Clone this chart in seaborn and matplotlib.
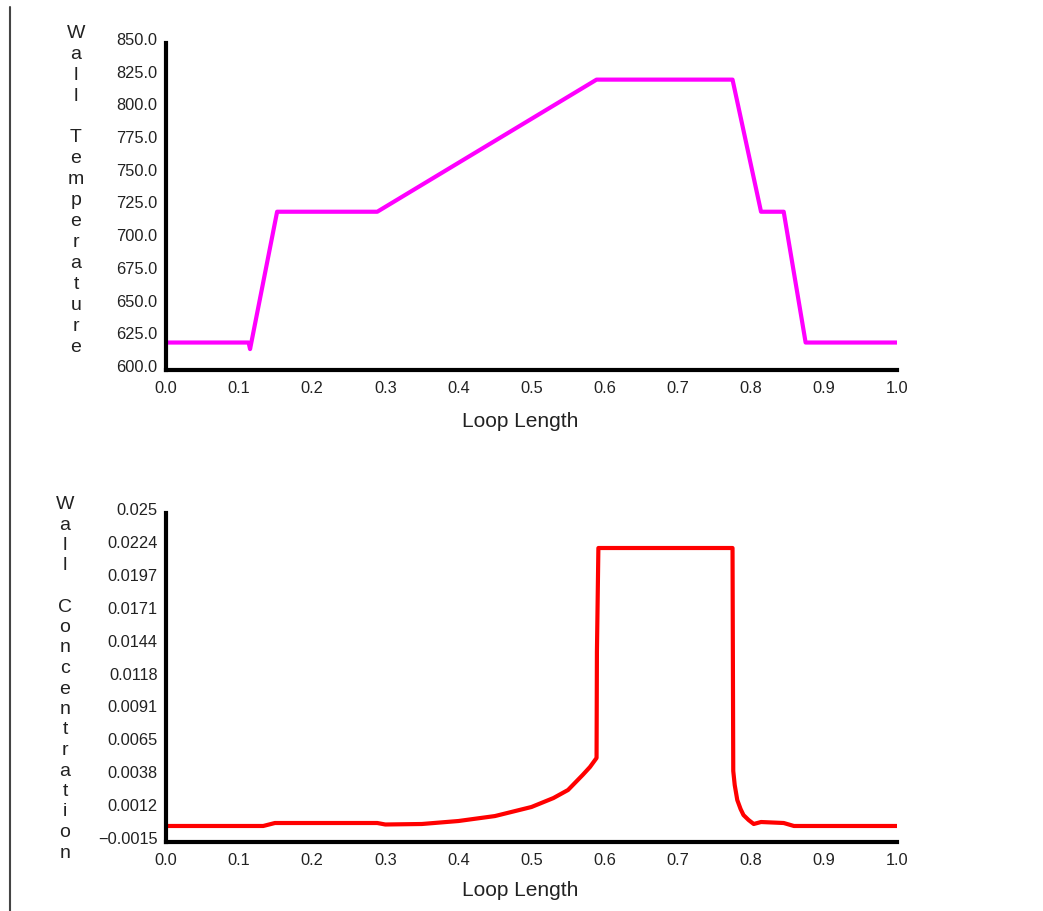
import numpy as np
import pandas as pd
import matplotlib
matplotlib.use("Agg")
import matplotlib.pyplot as plt
import matplotlib.transforms as mtransforms
from matplotlib.lines import Line2D
import seaborn as sns

# wall temperature along the loop
temp_x = [0.0, 0.113, 0.115, 0.152, 0.289, 0.589, 0.775, 0.814, 0.845, 0.875, 1.0]
temp_y = [621, 621, 616, 721, 721, 822, 822, 721, 721, 621, 621]

# wall concentration along the loop
conc_x = [0.0, 0.133, 0.149, 0.289, 0.30, 0.35, 0.40, 0.45, 0.50, 0.53, 0.55,
          0.57, 0.58, 0.589, 0.5895, 0.5915, 0.775, 0.776, 0.778, 0.7815,
          0.786, 0.79, 0.797, 0.804, 0.814, 0.845, 0.859, 1.0]
conc_y = [-0.00021, -0.00021, 0.00003, 0.00003, -0.00009, -0.00005, 0.00019,
          0.00059, 0.00132, 0.00204, 0.00269, 0.00390, 0.00454, 0.00527,
          0.01380, 0.02218, 0.02218, 0.00422, 0.00309, 0.00188, 0.00116,
          0.00067, 0.00027, -0.00005, 0.00011, 0.00003, -0.00021, -0.00021]

x_ticks = [0.0, 0.1, 0.2, 0.3, 0.4, 0.5, 0.6, 0.7, 0.8, 0.9, 1.0]
temp_ticks = [600, 625, 650, 675, 700, 725, 750, 775, 800, 825, 850]
conc_ticks = [-0.0015, 0.00115, 0.0038, 0.00645, 0.0091, 0.01175, 0.0144,
              0.01705, 0.0197, 0.02235, 0.025]
conc_labels = ["\u22120.0015", "0.0012", "0.0038", "0.0065", "0.0091", "0.0118",
               "0.0144", "0.0171", "0.0197", "0.0224", "0.025"]

temp_df = pd.DataFrame({"Loop Length": temp_x, "Wall Temperature": temp_y})
conc_df = pd.DataFrame({"Loop Length": conc_x, "Wall Concentration": conc_y})

sns.set_style("white")
plt.rcParams["font.family"] = ["Liberation Sans", "DejaVu Sans"]

W, H = 1043, 911
fig = plt.figure(figsize=(W / 100, H / 100), dpi=100)
ax1 = fig.add_axes([166 / W, (H - 370) / H, 731 / W, 327 / H])
ax2 = fig.add_axes([166 / W, (H - 842) / H, 731 / W, 329 / H])

sns.lineplot(data=temp_df, x="Loop Length", y="Wall Temperature", ax=ax1,
             color="#ff00ff", linewidth=3, estimator=None, sort=False)
sns.lineplot(data=conc_df, x="Loop Length", y="Wall Concentration", ax=ax2,
             color="#ff0000", linewidth=3, estimator=None, sort=False)

ax1.set_ylim(600, 850)
ax1.set_yticks(temp_ticks)
ax1.set_yticklabels([f"{t:.1f}" for t in temp_ticks])
ax2.set_ylim(-0.0015, 0.025)
ax2.set_yticks(conc_ticks)
ax2.set_yticklabels(conc_labels)

up = mtransforms.ScaledTranslation(0, 4 / 100, fig.dpi_scale_trans)
for ax, ly in ((ax1, -0.128), (ax2, -0.118)):
    ax.set_xlim(0, 1)
    ax.set_xticks(x_ticks)
    ax.set_xticklabels([f"{t:.1f}" for t in x_ticks])
    ax.set_ylabel("")
    ax.set_xlabel("Loop Length", fontsize=15, color="#222222")
    ax.xaxis.set_label_coords(0.485, ly)
    for s in ("top", "right"):
        ax.spines[s].set_visible(False)
    for s in ("left", "bottom"):
        ax.spines[s].set_linewidth(3)
        ax.spines[s].set_color("black")
    ax.tick_params(axis="y", direction="in", length=12, width=1.8,
                   labelsize=11.8, pad=6, colors="black", labelcolor="#222222")
    ax.tick_params(axis="x", direction="in", length=5, width=1.8,
                   labelsize=11.8, pad=8, colors="black", labelcolor="#222222")
    for lab in ax.get_yticklabels():
        lab.set_transform(lab.get_transform() + up)
    ax.patch.set_alpha(0)

# stacked vertical axis titles
def stacked(text, xc, y0, step):
    for i, ch in enumerate(text):
        fig.text(xc / W, 1 - (y0 + i * step) / H, ch, ha="center",
                 va="baseline", fontsize=14, color="#222222")

stacked("Wall Temperature", 76, 38, 20.9)
stacked("Wall Concentration", 65, 509, 20.5)

# frame line on the left
fig.add_artist(Line2D([10 / W, 10 / W], [0, 1 - 7 / H],
                      transform=fig.transFigure, color="#444444", linewidth=1.5))

fig.savefig("out.png", dpi=100)
